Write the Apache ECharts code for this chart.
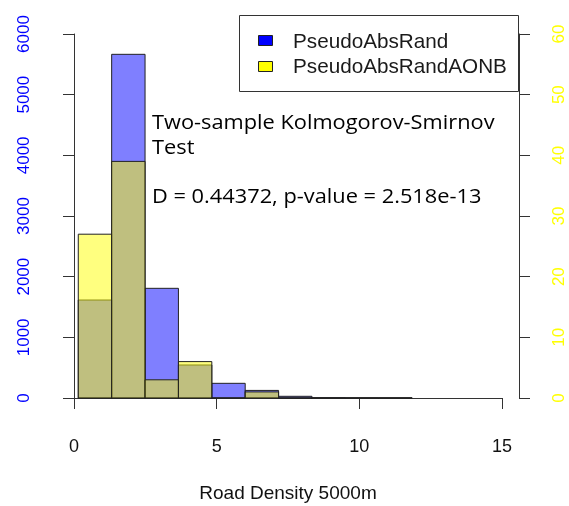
<!DOCTYPE html>
<html>
<head>
<meta charset="utf-8">
<script src="https://cdn.jsdelivr.net/npm/echarts@6/dist/echarts.min.js"></script>
<style>
  html, body { margin: 0; padding: 0; background: #ffffff; }
  #chart { width: 569px; height: 506px; }
</style>
</head>
<body>
<div id="chart"></div>
<script>
// Histogram bin boundaries shared by both samples (road density, 5000 m buffer)
const binEdges = [0.15, 1.32, 2.49, 3.66, 4.83, 6.00, 7.17, 8.34, 9.51, 10.68, 11.85];
// Frequencies per bin: random pseudo-absences (left axis) and AONB pseudo-absences (right axis)
const randCounts = [1615, 5665, 1808, 544, 242, 125, 28, 5, 2, 1];
const aonbCounts = [27, 39, 3, 6, 0, 1, 0, 0, 0, 0];
const seriesNames = ['PseudoAbsRand', 'PseudoAbsRandAONB'];
const xTitle = 'Road Density 5000m';
const testLines = ['Two-sample Kolmogorov-Smirnov', 'Test', 'D = 0.44372, p-value = 2.518e-13'];

const binsOf = counts => counts.map((c, i) => [binEdges[i], binEdges[i + 1], c]);

function histRenderer(fill) {
  return function (params, api) {
    const a = api.coord([api.value(0), 0]);
    const b = api.coord([api.value(1), api.value(2)]);
    return {
      type: 'rect',
      shape: { x: a[0], y: b[1], width: b[0] - a[0], height: a[1] - b[1] },
      style: { fill: fill, stroke: '#222222', lineWidth: 1 }
    };
  };
}

const axisLine = { show: true, lineStyle: { color: '#333333', width: 1 } };
const axisTick = { show: true, inside: false, length: 11, lineStyle: { color: '#333333', width: 1 } };
const plain = v => String(v);

// annotation text: widened slightly so the humanist face spans like the original
const noteStyle = t => ({ text: t, fontFamily: 'Open Sans', fontSize: 20, fill: '#000000', verticalAlign: 'middle' });

const chart = echarts.init(document.getElementById('chart'), null, { renderer: 'canvas' });
chart.setOption({
  animation: false,
  backgroundColor: '#ffffff',
  grid: { left: 74, top: 34, width: 428, height: 364, containLabel: false, outerBoundsMode: 'none' },
  xAxis: {
    type: 'value', min: 0, max: 15, interval: 5, position: 'bottom', offset: 15,
    axisLine: axisLine, axisTick: axisTick, splitLine: { show: false },
    axisLabel: { fontFamily: 'Liberation Sans', fontSize: 18, color: '#111111', margin: 25, formatter: plain },
    name: xTitle, nameLocation: 'middle', nameGap: 71,
    nameTextStyle: { fontFamily: 'Liberation Sans', fontSize: 19, color: '#111111' }
  },
  yAxis: [
    {
      type: 'value', min: 0, max: 6000, interval: 1000, position: 'left', offset: 17,
      axisLine: axisLine, axisTick: axisTick, splitLine: { show: false },
      axisLabel: { rotate: 90, fontFamily: 'Liberation Sans', fontSize: 17, color: '#0000ff', margin: 24, formatter: plain }
    },
    {
      type: 'value', min: 0, max: 60, interval: 10, position: 'right', offset: 17,
      axisLine: axisLine, axisTick: axisTick, splitLine: { show: false },
      axisLabel: { rotate: 90, fontFamily: 'Liberation Sans', fontSize: 17, color: '#ffff00', margin: 32, formatter: plain }
    }
  ],
  series: [
    {
      name: seriesNames[0], type: 'custom', xAxisIndex: 0, yAxisIndex: 0,
      renderItem: histRenderer('rgba(0,0,255,0.5)'),
      encode: { x: [0, 1], y: 2 }, data: binsOf(randCounts), z: 2
    },
    {
      name: seriesNames[1], type: 'custom', xAxisIndex: 0, yAxisIndex: 1,
      renderItem: histRenderer('rgba(255,255,0,0.5)'),
      encode: { x: [0, 1], y: 2 }, data: binsOf(aonbCounts), z: 3
    }
  ],
  graphic: [
    // legend box
    { type: 'rect', z: 100, shape: { x: 239.5, y: 15.5, width: 279, height: 76 },
      style: { fill: '#ffffff', stroke: '#333333', lineWidth: 1 } },
    { type: 'rect', z: 101, shape: { x: 258.5, y: 35.5, width: 14, height: 10 },
      style: { fill: '#0000ff', stroke: '#222222', lineWidth: 1 } },
    { type: 'rect', z: 101, shape: { x: 258.5, y: 61.5, width: 14, height: 10 },
      style: { fill: '#ffff00', stroke: '#222222', lineWidth: 1 } },
    { type: 'text', z: 101, x: 293, y: 42,
      style: { text: seriesNames[0], fontFamily: 'Liberation Sans', fontSize: 20.7, fill: '#1a1a1a', verticalAlign: 'middle' } },
    { type: 'text', z: 101, x: 293, y: 67,
      style: { text: seriesNames[1], fontFamily: 'Liberation Sans', fontSize: 20.7, fill: '#1a1a1a', verticalAlign: 'middle' } },
    // test statistics
    { type: 'text', z: 101, x: 152, y: 123, scaleX: 1.09, style: noteStyle(testLines[0]) },
    { type: 'text', z: 101, x: 152, y: 148, scaleX: 1.09, style: noteStyle(testLines[1]) },
    { type: 'text', z: 101, x: 152, y: 197, scaleX: 1.09, style: noteStyle(testLines[2]) }
  ]
});
</script>
</body>
</html>
